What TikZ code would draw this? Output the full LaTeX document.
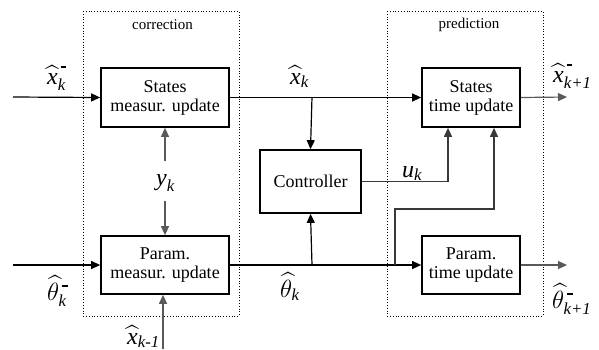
\documentclass[tikz,border=0pt]{standalone}
\usepackage{amsmath}
\usepackage{fontspec}
\setmainfont{Liberation Serif}
\usetikzlibrary{arrows.meta}
\newcommand\hx{\widehat{\textit{x}}}
\newcommand\hth{\widehat{\theta}}
\newcommand\mns{\,\raisebox{4pt}{\rule{5.5pt}{2pt}}}
\begin{document}
\begin{tikzpicture}[x=1pt,y=-1pt,
  blk/.style={draw,line width=1.7pt,align=center,inner sep=0pt,
    font=\fontsize{18}{19}\selectfont},
  grp/.style={draw,dotted,line width=0.8pt},
  ttl/.style={font=\fontsize{15}{15}\selectfont,inner sep=0pt},
  lbl/.style={font=\fontsize{24}{24}\selectfont,inner sep=0pt,anchor=base west},
  ln/.style={line width=1.2pt},
  gln/.style={line width=1.2pt,draw=black!65},
  arr/.style={ln,-{Triangle[length=9pt,width=8pt]}},
  garr/.style={gln,-{Triangle[length=9pt,width=8pt]}},
  darr/.style={line width=1.2pt,draw=black!78,-{Triangle[length=9pt,width=8pt]}}
]
\useasboundingbox (0,0) rectangle (599,349);
% group frames
\draw[grp] (83,11) rectangle (239,316);
\draw[grp] (387,11) rectangle (543,316);
\node[ttl] (tcor) at (162.5,25) {correction};
\node[ttl] (tpre) at (469,25) {prediction};
% blocks
\node[blk,minimum width=128pt,minimum height=59pt] (smu) at (165,97.5) {States\\measur. update};
\node[blk,minimum width=128pt,minimum height=58pt] (pmu) at (165,265) {Param.\\measur. update};
\node[blk,minimum width=98pt,minimum height=59pt] (stu) at (471,97.5) {States\\time update};
\node[blk,minimum width=98pt,minimum height=58pt] (ptu) at (471,265) {Param.\\time update};
\node[blk,minimum width=101pt,minimum height=63pt] (ctl) at (310.5,181.5) {Controller};
% labels
\node[lbl] (lxm) at (47,84) {$\hx_{\textit{k}}^{\mns}$};
\node[lbl] (lx) at (290,84) {$\hx_{\textit{k}}$};
\node[lbl] (lxp) at (553,82) {$\hx_{\textit{k+1}}^{\mns}$};
\node[lbl] (ltm) at (47,300) {$\hth_{\textit{k}}^{\mns}$};
\node[lbl] (lt) at (280,297) {$\hth_{\textit{k}}$};
\node[lbl] (ltp) at (552,308) {$\hth_{\textit{k+1}}^{\mns}$};
\node[lbl] (lxo) at (127,344) {$\hx_{\textit{k-1}}$};
\node[lbl] (ly) at (156,185) {$\textit{y}_{\textit{k}}$};
\node[lbl] (lu) at (402,177) {$\textit{u}_{\textit{k}}$};
% coordinates
\coordinate (inx) at (13,97);
\coordinate (inth) at (13,265);
\coordinate (outx) at (567,97);
\coordinate (outth) at (567,265);
\coordinate (b1) at (312,97);
\coordinate (b2) at (312,265);
\coordinate (b3) at (395,265);
\coordinate (k1) at (494,209);
\coordinate (yu) at (165,161);
\coordinate (yd) at (165,201);
\coordinate (xo) at (163,349);
% connectors
\draw[arr] (inx) -- (smu.west);
\draw[arr] (inth) -- (pmu.west);
\draw[arr] (smu.east) -- (stu.west);
\draw[arr] (pmu.east) -- (ptu.west);
\draw[arr] (b1) -- (ctl.north);
\draw[arr] (b2) -- (ctl.south);
\draw[darr] (ctl.east) -| ([xshift=-23pt]stu.south);
\draw[darr] (b3) |- (k1) -- ([xshift=23pt]stu.south);
\draw[garr] (stu.east) -- (outx);
\draw[garr] (ptu.east) -- (outth);
\draw[garr] (yu) -- (smu.south);
\draw[garr] (yd) -- (pmu.north);
\draw[garr] (xo) -- (xo |- pmu.south);
\end{tikzpicture}
\end{document}
